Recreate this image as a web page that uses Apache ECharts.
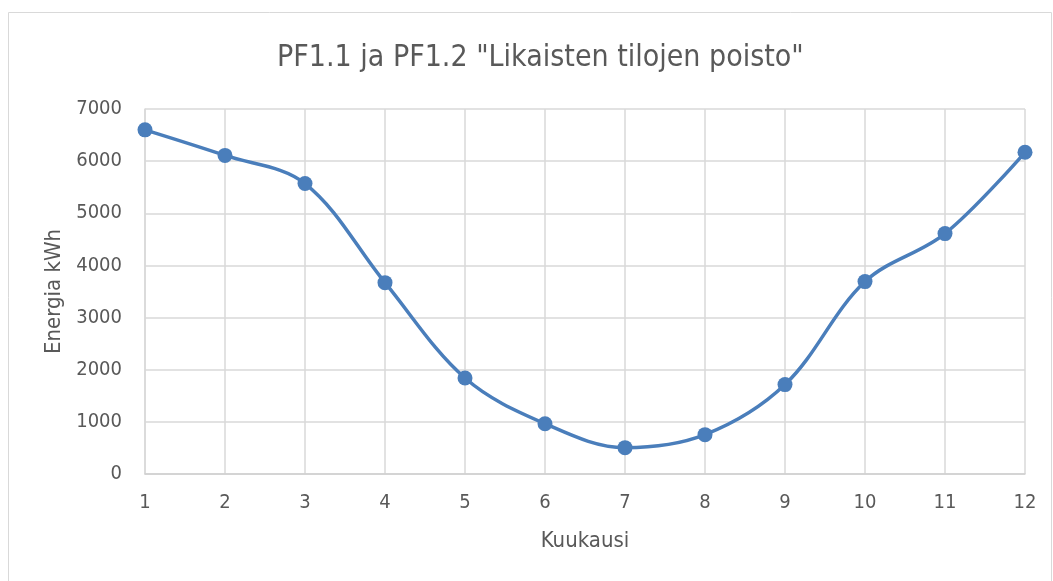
<!DOCTYPE html>
<html><head><meta charset="utf-8">
<script src="https://cdn.jsdelivr.net/npm/echarts@6/dist/echarts.min.js"></script>
<style>html,body{margin:0;padding:0;background:#fff}#c{width:1053px;height:581px}</style>
</head><body><div id="c"></div>
<script>
const titleText = 'PF1.1 ja PF1.2 "Likaisten tilojen poisto"';
const months = ['1','2','3','4','5','6','7','8','9','10','11','12'];
const energy = [6600, 6110, 5570, 3670, 1840, 965, 505, 755, 1715, 3690, 4610, 6170];
const yTicks = {min: 0, max: 7000, interval: 1000};
const xName = 'Kuukausi';
const yName = 'Energia kWh';

const chart = echarts.init(document.getElementById('c'));
const txt = '#595959';
const font = '"DejaVu Sans Condensed", sans-serif';
chart.setOption({
  animation: false,
  graphic: [{type:'rect', shape:{x:8.5,y:12.5,width:1043,height:580}, style:{fill:'none', stroke:'#d9d9d9', lineWidth:1}}],
  title: {text: titleText, left: 272, top: 38, textStyle:{fontFamily: font, fontSize: 30, fontWeight:'normal', color: txt}},
  grid: {left: 145, right: 28, top: 109, bottom: 107},
  xAxis: {
    type: 'category', data: months, boundaryGap: false,
    name: xName, nameLocation: 'middle', nameGap: 56,
    nameTextStyle: {fontFamily: font, fontSize: 22, color: txt},
    axisLine: {lineStyle: {color: '#d0d0d0', width: 1.5}},
    axisTick: {show: false},
    axisLabel: {fontFamily: font, fontSize: 20, color: txt, margin: 19},
    splitLine: {show: true, lineStyle: {color: '#d9d9d9', width: 1.5}}
  },
  yAxis: {
    type: 'value', min: yTicks.min, max: yTicks.max, interval: yTicks.interval,
    name: yName, nameLocation: 'middle', nameGap: 76,
    nameTextStyle: {fontFamily: font, fontSize: 22, color: txt},
    axisLine: {show: true, lineStyle: {color: '#d9d9d9', width: 1.5}},
    axisTick: {show: false},
    axisLabel: {fontFamily: font, fontSize: 20, color: txt, margin: 23, formatter: v => String(v)},
    splitLine: {show: true, lineStyle: {color: '#d9d9d9', width: 1.5}}
  },
  series: [{
    type: 'line', data: energy, smooth: 0.35,
    symbol: 'circle', symbolSize: 15,
    lineStyle: {color: '#4a7ebb', width: 3.5},
    itemStyle: {color: '#4a7ebb'}
  }]
});
</script></body></html>
